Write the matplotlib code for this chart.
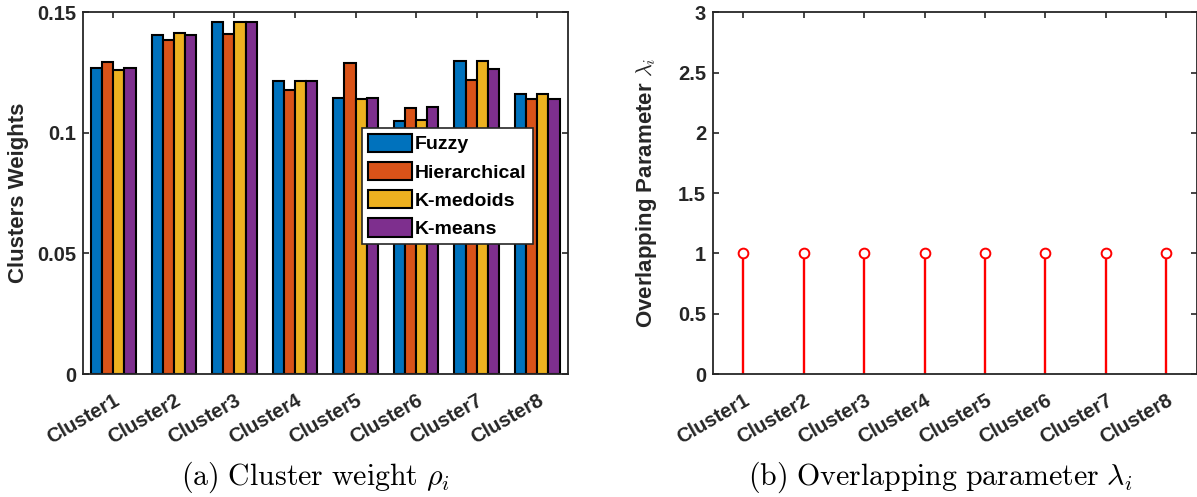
import numpy as np
import matplotlib
matplotlib.use('Agg')
import matplotlib.pyplot as plt
import matplotlib.transforms as mtransforms

#-------------------------------------------------------------#
# Data
#-------------------------------------------------------------#
clusters = ['Cluster1', 'Cluster2', 'Cluster3', 'Cluster4',
            'Cluster5', 'Cluster6', 'Cluster7', 'Cluster8']
methods = ['Fuzzy', 'Hierarchical', 'K-medoids', 'K-means']

fuzzy        = [0.1268, 0.1407, 0.1461, 0.1214, 0.1146, 0.1048, 0.1299, 0.1161]
hierarchical = [0.1293, 0.1384, 0.1411, 0.1177, 0.1289, 0.1102, 0.1221, 0.1139]
kmedoids     = [0.1261, 0.1414, 0.1459, 0.1214, 0.1140, 0.1053, 0.1299, 0.1161]
kmeans       = [0.1268, 0.1407, 0.1459, 0.1214, 0.1145, 0.1109, 0.1265, 0.1139]

overlap = [1, 1, 1, 1, 1, 1, 1, 1]

colors = ['#0072BD', '#D95319', '#EDB120', '#7E2F8E']
axcol = '#262626'

plt.rcParams['font.family'] = ['Liberation Sans', 'DejaVu Sans']
plt.rcParams['font.weight'] = 'bold'
plt.rcParams['mathtext.fontset'] = 'cm'

fig = plt.figure(figsize=(11.97, 4.97), dpi=100)
ax1 = fig.add_axes([83/1197, 1-374/497, 484.5/1197, 361.7/497])
ax2 = fig.add_axes([713/1197, 1-374/497, 483.5/1197, 361.7/497])

x = np.arange(1, 9)

#-------------------------------------------------------------#
# (a) grouped bars
#-------------------------------------------------------------#
w = 0.184
series = [fuzzy, hierarchical, kmedoids, kmeans]
for i in range(4):
    ax1.bar(x + (i-1.5)*w, series[i], width=w, color=colors[i],
            edgecolor='black', linewidth=1.5, label=methods[i], zorder=2)

ax1.set_xlim(0.5, 8.5)
ax1.set_ylim(0, 0.15)
ax1.set_yticks([0, 0.05, 0.1, 0.15])
ax1.set_yticklabels(['0', '0.05', '0.1', '0.15'])
ax1.set_ylabel('Clusters Weights', fontsize=16, fontweight='bold', color=axcol)
ax1.yaxis.set_label_coords(-0.112, 0.5)

leg = ax1.legend(loc='upper right', bbox_to_anchor=(0.928, 0.681),
                 fontsize=14, frameon=True, fancybox=False, framealpha=1,
                 handlelength=2.3, handleheight=1.1, handletextpad=0.15,
                 labelspacing=0.42, borderpad=0.3, borderaxespad=0)
leg.get_frame().set_edgecolor(axcol)
leg.get_frame().set_linewidth(1.2)
for t in leg.get_texts():
    t.set_fontweight('bold')

#-------------------------------------------------------------#
# (b) stem plot
#-------------------------------------------------------------#
ml, sl, bl = ax2.stem(x, overlap, linefmt='r-', markerfmt='ro', basefmt=' ')
sl.set_linewidth(1.7)
ml.set_markerfacecolor('white')
ml.set_markeredgecolor('red')
ml.set_markersize(7)
ml.set_markeredgewidth(1.4)

ax2.set_xlim(0.5, 8.5)
ax2.set_ylim(0, 3)
ax2.set_yticks([0, 0.5, 1, 1.5, 2, 2.5, 3])
ax2.set_yticklabels(['0', '0.5', '1', '1.5', '2', '2.5', '3'])
ax2.set_ylabel(r'Overlapping Parameter $\lambda_i$', fontsize=16,
               fontweight='bold', color=axcol)
ax2.yaxis.set_label_coords(-0.112, 0.5)

#-------------------------------------------------------------#
# common axis styling
#-------------------------------------------------------------#
offset = mtransforms.ScaledTranslation(9/100, 0, fig.dpi_scale_trans)
for ax in [ax1, ax2]:
    ax.set_xticks(x)
    ax.set_xticklabels(clusters, rotation=30, ha='right', va='top',
                       rotation_mode='anchor', fontsize=14.5, fontweight='bold')
    for lab in ax.get_xticklabels():
        lab.set_transform(lab.get_transform() + offset)
    for lab in ax.get_yticklabels():
        lab.set_fontsize(14.5)
        lab.set_fontweight('bold')
    ax.tick_params(axis='both', direction='in', length=4, width=1.2,
                   colors=axcol, top=True, right=True)
    ax.tick_params(axis='y', pad=5)
    ax.tick_params(axis='x', pad=12)
    for s in ax.spines.values():
        s.set_linewidth(1.3)
        s.set_color(axcol)

#-------------------------------------------------------------#
# captions
#-------------------------------------------------------------#
fig.text(315/1197, 1-485/497, r'$\mathrm{(a)\ Cluster\ weight}\ \rho_i$',
         fontsize=21.5, ha='center', va='baseline')
fig.text(940/1197, 1-485/497, r'$\mathrm{(b)\ Overlapping\ parameter}\ \lambda_i$',
         fontsize=21.5, ha='center', va='baseline')

fig.savefig('out.png', dpi=100)
